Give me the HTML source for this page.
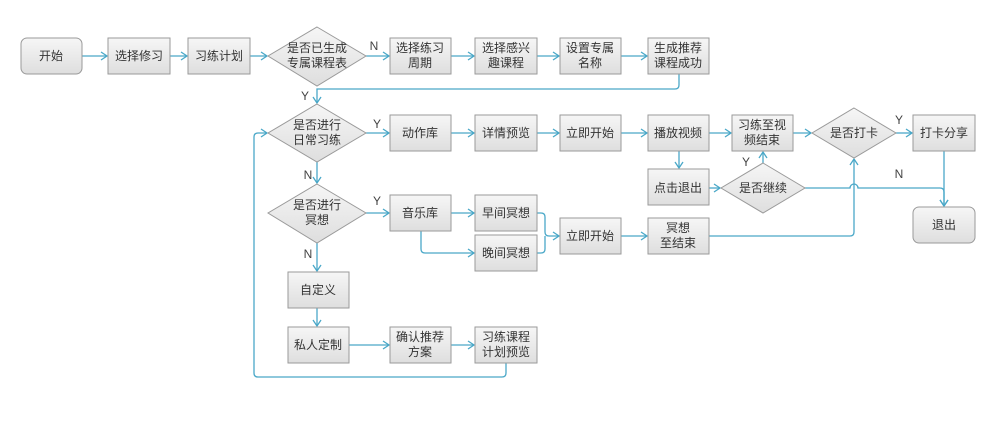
<!DOCTYPE html><html><head><meta charset="utf-8"><style>
body{margin:0;background:#fff}
svg text{font-family:"Liberation Sans","Noto Sans CJK SC",sans-serif;font-size:12px;fill:#333;text-anchor:middle}
.b{fill:url(#g);stroke:#9a9a9a;stroke-width:1}
.l{fill:none;stroke:#4aa8c8;stroke-width:1.3}
.lb{font-size:12px;fill:#444}
</style></head><body>
<svg width="1000" height="416" viewBox="0 0 1000 416">
<defs>
<linearGradient id="g" x1="0" y1="0" x2="0" y2="1"><stop offset="0" stop-color="#f6f6f6"/><stop offset="1" stop-color="#dedede"/></linearGradient>
<marker id="a" markerWidth="8" markerHeight="10" refX="7" refY="5" orient="auto" markerUnits="userSpaceOnUse"><path d="M1,1 L7,5 L1,9" fill="none" stroke="#4aa8c8" stroke-width="1.3"/></marker>
</defs>
<g class="l" marker-end="url(#a)">
<path d="M82,56H107"/><path d="M170,56H187"/><path d="M250,56H267"/>
<path d="M366,56H389"/><path d="M451,56H474"/><path d="M537,56H559"/><path d="M621,56H647"/>
<path d="M679,74V85Q679,89 675,89H317V103"/>
<path d="M366,133H389"/><path d="M451,133H474"/><path d="M537,133H559"/><path d="M621,133H647"/><path d="M709,133H731"/><path d="M793,133H811"/><path d="M896,133H912"/>
<path d="M679,151V168"/><path d="M709,188H720"/><path d="M763,163V152"/>
<path d="M805,188H850A4,4 0 0 1 858,188H940Q944,188 944,192V206"/>
<path d="M944,151V206"/>
<path d="M709,236H850Q854,236 854,232V159"/>
<path d="M317,162V183"/>
<path d="M366,213H389"/><path d="M451,213H474"/>
<path d="M421,231V249Q421,253 425,253H474"/>
<path d="M537,213H541Q545,213 545,217V232Q545,236 549,236H559"/>
<path d="M621,236H647"/>
<path d="M317,243V271"/><path d="M317,308V326"/>
<path d="M348,345H389"/><path d="M451,345H474"/>
<path d="M506,363V373Q506,377 502,377H258Q254,377 254,373V137Q254,133 258,133H267"/>
</g>
<path class="l" d="M537,253H541Q545,253 545,249V236"/>
<rect class="b" x="21" y="38" width="61" height="36" rx="6"/><text x="51" y="60">开始</text>
<rect class="b" x="108" y="38" width="62" height="36"/><text x="139" y="60">选择修习</text>
<rect class="b" x="188" y="38" width="62" height="36"/><text x="219" y="60">习练计划</text>
<path class="b" d="M317,27L366,56L317,86L268,56Z"/><text x="317" y="52">是否已生成</text><text x="317" y="67">专属课程表</text>
<rect class="b" x="390" y="38" width="61" height="36"/><text x="420" y="52">选择练习</text><text x="420" y="67">周期</text>
<rect class="b" x="475" y="38" width="62" height="36"/><text x="506" y="52">选择感兴</text><text x="506" y="67">趣课程</text>
<rect class="b" x="560" y="38" width="61" height="36"/><text x="590" y="52">设置专属</text><text x="590" y="67">名称</text>
<rect class="b" x="648" y="38" width="61" height="36"/><text x="678" y="52">生成推荐</text><text x="678" y="67">课程成功</text>
<path class="b" d="M317,104L366,133L317,162L268,133Z"/><text x="317" y="129">是否进行</text><text x="317" y="144">日常习练</text>
<rect class="b" x="390" y="115" width="61" height="36"/><text x="420" y="137">动作库</text>
<rect class="b" x="475" y="115" width="62" height="36"/><text x="506" y="137">详情预览</text>
<rect class="b" x="560" y="115" width="61" height="36"/><text x="590" y="137">立即开始</text>
<rect class="b" x="648" y="115" width="61" height="36"/><text x="678" y="137">播放视频</text>
<rect class="b" x="732" y="115" width="61" height="36"/><text x="762" y="129">习练至视</text><text x="762" y="144">频结束</text>
<path class="b" d="M854,108L896,133L854,158L812,133Z"/><text x="854" y="137">是否打卡</text>
<rect class="b" x="913" y="115" width="62" height="36"/><text x="944" y="137">打卡分享</text>
<rect class="b" x="648" y="169" width="61" height="36"/><text x="678" y="192">点击退出</text>
<path class="b" d="M763,163L805,188L763,213L721,188Z"/><text x="763" y="192">是否继续</text>
<rect class="b" x="913" y="207" width="62" height="36" rx="6"/><text x="944" y="229">退出</text>
<path class="b" d="M317,184L366,213L317,243L268,213Z"/><text x="317" y="209">是否进行</text><text x="317" y="224">冥想</text>
<rect class="b" x="390" y="195" width="61" height="36"/><text x="420" y="217">音乐库</text>
<rect class="b" x="475" y="195" width="62" height="36"/><text x="506" y="217">早间冥想</text>
<rect class="b" x="475" y="235" width="62" height="36"/><text x="506" y="257">晚间冥想</text>
<rect class="b" x="560" y="218" width="61" height="36"/><text x="590" y="240">立即开始</text>
<rect class="b" x="648" y="218" width="61" height="36"/><text x="678" y="232">冥想</text><text x="678" y="247">至结束</text>
<rect class="b" x="288" y="272" width="61" height="36"/><text x="318" y="294">自定义</text>
<rect class="b" x="288" y="327" width="61" height="36"/><text x="318" y="349">私人定制</text>
<rect class="b" x="390" y="327" width="61" height="36"/><text x="420" y="341">确认推荐</text><text x="420" y="356">方案</text>
<rect class="b" x="475" y="327" width="62" height="36"/><text x="506" y="341">习练课程</text><text x="506" y="356">计划预览</text>
<text class="lb" x="374" y="50">N</text><text class="lb" x="305" y="100">Y</text>
<text class="lb" x="377" y="128">Y</text><text class="lb" x="308" y="179">N</text>
<text class="lb" x="377" y="205">Y</text><text class="lb" x="308" y="258">N</text>
<text class="lb" x="746" y="166">Y</text><text class="lb" x="899" y="124">Y</text><text class="lb" x="899" y="178">N</text>
</svg></body></html>
